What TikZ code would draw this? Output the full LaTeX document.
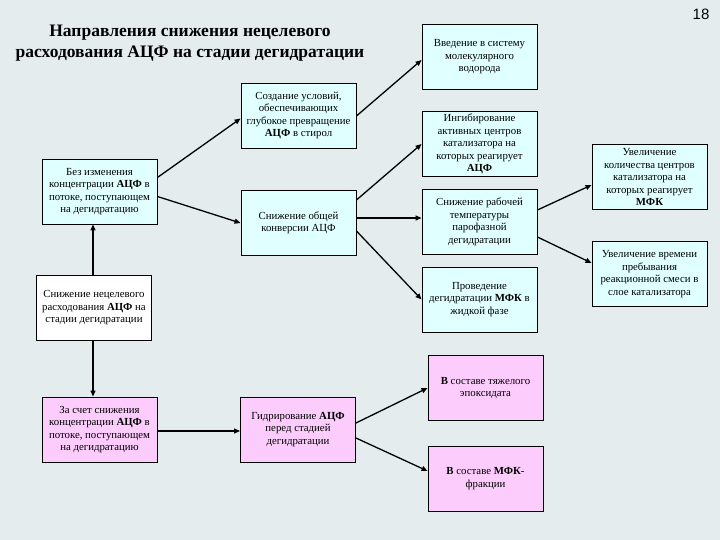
\documentclass[tikz,border=0pt]{standalone}
\usepackage{fontspec}
\setmainfont{Liberation Serif}
\newfontfamily\numfont{Liberation Sans}
\usetikzlibrary{arrows.meta}
\definecolor{bgc}{HTML}{E4ECEE}
\definecolor{cyanbox}{HTML}{E0FFFF}
\definecolor{pinkbox}{HTML}{FCCCFC}
\tikzset{
  box/.style={draw=black, line width=0.9pt, fill=cyanbox, minimum width=115pt, minimum height=65pt, align=center, inner sep=2pt, font=\fontsize{10.8}{12.5}\selectfont},
  pinkb/.style={box, fill=pinkbox},
  whiteb/.style={box, fill=white},
  conn/.style={line width=1.3pt, -{Triangle[length=6pt,width=5pt]}},
}
\begin{document}
\begin{tikzpicture}[x=1pt,y=-1pt]
\useasboundingbox (0,0) rectangle (720,540);
\fill[bgc] (0,0) rectangle (720,540);
\node[font=\fontsize{17.5}{21.5}\selectfont\bfseries, align=center] (title) at (190,43) {Направления снижения нецелевого\\расходования АЦФ на стадии дегидратации};
\node[font=\numfont\fontsize{15}{18}\selectfont] (num) at (701,14) {18};
% boxes
\node[box] (A) at (479.5,57) {Введение в систему\\молекулярного\\водорода};
\node[box] (B) at (298.5,115.5) {Создание условий,\\обеспечивающих\\глубокое превращение\\\textbf{АЦФ} в стирол};
\node[box] (C) at (298.5,223) {Снижение общей\\конверсии АЦФ};
\node[box] (D) at (99.5,191.5) {Без изменения\\концентрации \textbf{АЦФ} в\\потоке, поступающем\\на дегидратацию};
\node[whiteb] (E) at (94,308) {Снижение нецелевого\\расходования \textbf{АЦФ} на\\стадии дегидратации};
\node[pinkb] (F) at (99.5,429.5) {За счет снижения\\концентрации \textbf{АЦФ} в\\потоке, поступающем\\на дегидратацию};
\node[pinkb] (G) at (298,429.5) {Гидрирование \textbf{АЦФ}\\перед стадией\\дегидратации};
\node[pinkb] (H) at (485.5,388) {\textbf{В} составе тяжелого\\эпоксидата};
\node[pinkb] (I) at (485.5,478.5) {\textbf{В} составе \textbf{МФК}-\\фракции};
\node[box] (J) at (479.5,144) {Ингибирование\\активных центров\\катализатора на\\которых реагирует\\\textbf{АЦФ}};
\node[box] (K) at (479.5,222) {Снижение рабочей\\температуры\\парофазной\\дегидратации};
\node[box] (L) at (479.5,299.5) {Проведение\\дегидратации \textbf{МФК} в\\жидкой фазе};
\node[box] (M) at (649.5,177) {Увеличение\\количества центров\\катализатора на\\которых реагирует\\\textbf{МФК}};
\node[box] (N) at (649.5,274) {Увеличение времени\\пребывания\\реакционной смеси в\\слое катализатора};
% connectors
\draw[conn] ([xshift=-1pt]E.north) -- ([xshift=-1pt]E.north |- D.south);
\draw[conn] ([xshift=-1pt]E.south) -- ([xshift=-1pt]E.south |- F.north);
\draw[conn] ([yshift=14pt]D.east) -- ([yshift=-3pt]B.west);
\draw[conn] ([yshift=-5pt]D.east) -- (C.west);
\draw[conn] ([yshift=-0.5pt]B.east) -- ([yshift=-3pt]A.west);
\draw[conn] ([yshift=23pt]C.east) -- (J.west);
\draw[conn] ([yshift=5pt]C.east) -- ([yshift=4pt]K.west);
\draw[conn] ([yshift=-8pt]C.east) -- (L.west);
\draw[conn] ([yshift=12pt]K.east) -- ([yshift=-8pt]M.west);
\draw[conn] ([yshift=-15pt]K.east) -- ([yshift=11pt]N.west);
\draw[conn] ([yshift=-1.5pt]F.east) -- ([yshift=-1.5pt]G.west);
\draw[conn] ([yshift=6.5pt]G.east) -- (H.west);
\draw[conn] ([yshift=-8.5pt]G.east) -- ([yshift=7.5pt]I.west);
\end{tikzpicture}
\end{document}
